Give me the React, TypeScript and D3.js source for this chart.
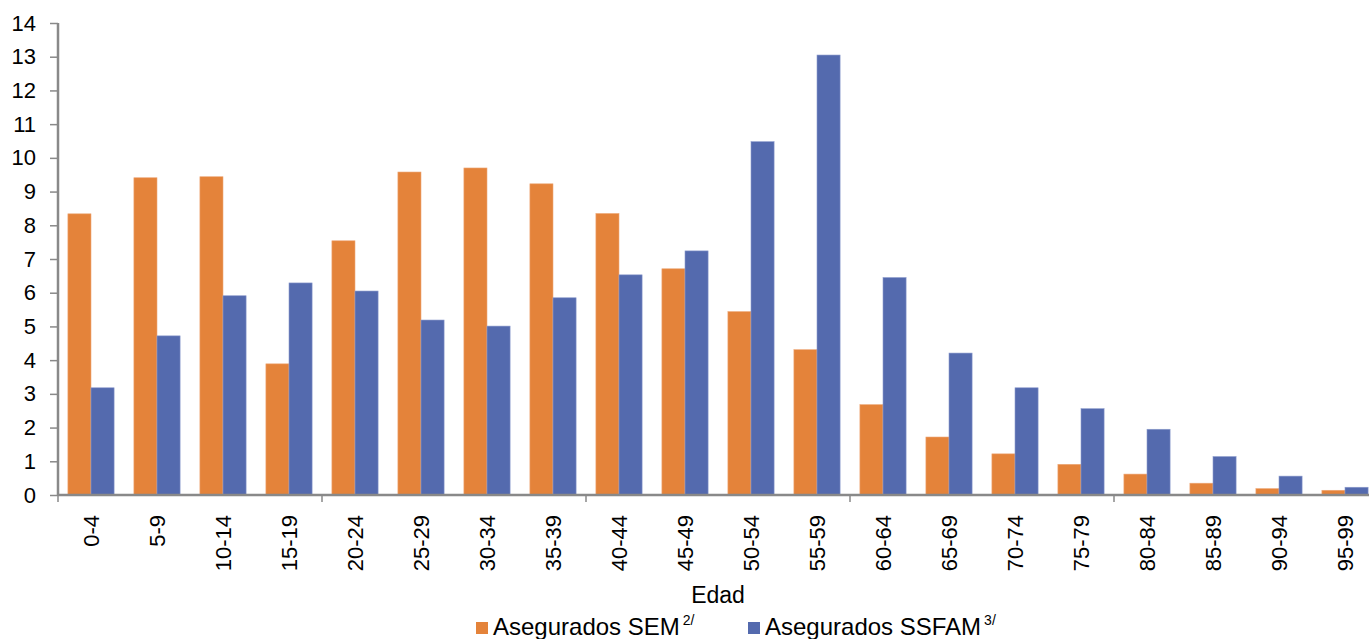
import { useEffect, useRef } from 'react';
import * as d3 from 'd3';

const ageGroups = [
  '0-4', '5-9', '10-14', '15-19', '20-24', '25-29', '30-34', '35-39', '40-44', '45-49',
  '50-54', '55-59', '60-64', '65-69', '70-74', '75-79', '80-84', '85-89', '90-94', '95-99',
];
const semValues = [
  8.34, 9.41, 9.44, 3.89, 7.54, 9.58, 9.70, 9.23, 8.35, 6.71,
  5.44, 4.31, 2.68, 1.72, 1.22, 0.91, 0.62, 0.35, 0.19, 0.14,
];
const ssfamValues = [
  3.18, 4.72, 5.91, 6.29, 6.05, 5.19, 5.01, 5.85, 6.53, 7.24,
  10.48, 13.05, 6.45, 4.21, 3.18, 2.56, 1.95, 1.14, 0.56, 0.23,
];
const yTicks = [0, 1, 2, 3, 4, 5, 6, 7, 8, 9, 10, 11, 12, 13, 14];
const seriesNames = ['Asegurados SEM', 'Asegurados SSFAM'];
const seriesNotes = ['2/', '3/'];

const W = 1369;
const H = 639;
const MARGIN = { top: 23, right: -9, bottom: 144, left: 58 };
const FONT = "'Liberation Sans', Arial, Helvetica, sans-serif";
const COLORS = ['#E4833A', '#546AAE'];
const AXIS = '#898989';

export default function App() {
  const svgRef = useRef<SVGSVGElement>(null);

  useEffect(() => {
    const svg = d3.select(svgRef.current);
    svg.selectAll('*').remove();

    const innerW = W - MARGIN.left - MARGIN.right;
    const innerH = H - MARGIN.top - MARGIN.bottom;

    const g = svg.append('g').attr('transform', `translate(${MARGIN.left},${MARGIN.top})`);

    const x = d3.scaleBand<string>().domain(ageGroups).range([0, innerW]).paddingInner(0.3).paddingOuter(0.15);
    const xSub = d3.scaleBand<number>().domain([0, 1]).range([0, x.bandwidth()]);
    const y = d3.scaleLinear().domain([0, 14]).range([innerH, 0]);

    // bars
    const series = [semValues, ssfamValues];
    series.forEach((vals, si) => {
      g.append('g')
        .selectAll('rect')
        .data(vals)
        .enter()
        .append('rect')
        .attr('x', (_, i) => (x(ageGroups[i]) as number) + (xSub(si) as number))
        .attr('y', (d) => y(d))
        .attr('width', xSub.bandwidth())
        .attr('height', (d) => innerH - y(d))
        .attr('fill', COLORS[si])
        .attr('stroke', si === 0 ? '#EDA878' : '#8C9BCC')
        .attr('stroke-width', 0.6);
    });

    // y axis
    const yAxis = g.append('g')
      .call(d3.axisLeft(y).tickValues(yTicks).tickSize(8).tickPadding(6).tickFormat((d) => String(d)));
    yAxis.select('.domain').attr('stroke', AXIS).attr('stroke-width', 2.5).attr('d', `M0,${innerH + 1}V0`);
    yAxis.selectAll('line').attr('stroke', AXIS).attr('stroke-width', 1.5);
    yAxis.selectAll('text')
      .attr('fill', '#000')
      .attr('font-size', '22px')
      .attr('font-family', FONT)
      .attr('x', -22);

    // x axis line + tick marks every 4 groups
    const step = x.step();
    g.append('line')
      .attr('x1', 0).attr('x2', innerW)
      .attr('y1', innerH).attr('y2', innerH)
      .attr('stroke', AXIS).attr('stroke-width', 2.5);
    g.selectAll('.xtick')
      .data(d3.range(0, ageGroups.length + 1, 4))
      .enter()
      .append('line')
      .attr('x1', (k) => k * step).attr('x2', (k) => k * step)
      .attr('y1', innerH).attr('y2', innerH + 7)
      .attr('stroke', AXIS).attr('stroke-width', 1.5);

    // category labels, rotated
    g.selectAll('.xlabel')
      .data(ageGroups)
      .enter()
      .append('text')
      .attr('transform', (d) => `translate(${(x(d) as number) + x.bandwidth() / 2 + 8},${innerH + 20}) rotate(-90)`)
      .attr('text-anchor', 'end')
      .attr('font-size', '22px')
      .attr('font-family', FONT)
      .attr('fill', '#000')
      .text((d) => d);

    // axis title
    svg.append('text')
      .attr('x', MARGIN.left + 660).attr('y', 603)
      .attr('text-anchor', 'middle')
      .attr('font-size', '23px')
      .attr('font-family', FONT)
      .attr('fill', '#000')
      .text('Edad');

    // legend
    const legendX = [476, 748];
    seriesNames.forEach((name, i) => {
      const lg = svg.append('g').attr('transform', `translate(${legendX[i]},622)`);
      lg.append('rect').attr('width', 12).attr('height', 12).attr('fill', COLORS[i]);
      const t = lg.append('text')
        .attr('x', 17).attr('y', 13)
        .attr('font-size', '24px')
        .attr('font-family', FONT)
        .attr('fill', '#000');
      t.append('tspan').text(name);
      t.append('tspan')
        .attr('dx', 3)
        .attr('dy', -10)
        .attr('font-size', '14px')
        .text(seriesNotes[i]);
    });
  }, []);

  return (
    <div style={{ position: 'absolute', left: 0, top: 0, width: W, height: H, background: '#fff' }}>
      <svg ref={svgRef} width={W} height={H} style={{ display: 'block' }} />
    </div>
  );
}
